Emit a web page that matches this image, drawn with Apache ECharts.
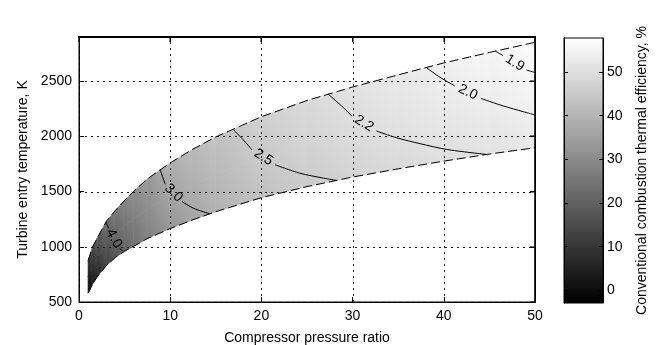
<!DOCTYPE html>
<html><head><meta charset="utf-8">
<script src="https://cdn.jsdelivr.net/npm/echarts@6/dist/echarts.min.js"></script>
<style>html,body{margin:0;padding:0;background:#fff}#c{width:661px;height:345px}</style>
</head><body><div id="c"></div>
<script>
// ---- data ----
const pressureRatio = [1, 1.5, 2, 3, 4, 5, 6, 7.5, 10, 12.5, 15, 20, 25, 30, 35, 40, 45, 50];
const upperTemp = [875, 1000, 1080, 1230, 1330, 1420, 1503, 1615, 1760, 1885, 1995, 2178, 2325, 2447, 2557, 2665, 2760, 2852];
const lowerTemp = [580, 665, 730, 830, 905, 960, 1005, 1075, 1165, 1245, 1318, 1445, 1545, 1632, 1706, 1776, 1840, 1897];
// efficiency (%) at lower edge, middle and upper edge of the band
const effLower = [-2.5, 3, 7, 13, 17.5, 21, 24, 28, 33, 36.5, 39.5, 43, 45.5, 47.5, 49, 50, 51, 52];
const effMid   = [4, 9, 13, 18, 22, 25, 27.5, 31, 36, 39, 41.5, 45, 47.5, 49.5, 51, 52.5, 53.5, 55];
const effUpper = [11, 15, 19, 23, 26.5, 29, 31, 34, 39, 41.5, 43.5, 46.5, 49, 51, 52.5, 54, 55.5, 57];
const colorbarMin = -2.9, colorbarMax = 57.8;
const colorbarTicks = [0, 10, 20, 30, 40, 50];
const xRange = [0, 50];
const yRange = [500, 2900];
const xTicks = [0, 10, 20, 30, 40, 50];
const yTicks = [500, 1000, 1500, 2000, 2500];

const contourLevels = ['4.0', '3.0', '2.5', '2.2', '2.0', '1.9'];
const contourBeforeLabel = [
  [[2.95, 1225], [3.05, 1205], [3.24, 1167]],
  [[8.9, 1700], [9.1, 1650], [9.45, 1565]],
  [[16.9, 2062], [18.0, 1970], [18.95, 1879]],
  [[27.3, 2385], [28.98, 2261], [29.9, 2185]],
  [[38.1, 2623], [39.6, 2534], [41.2, 2458]],
  [[45.67, 2772], [46.5, 2731]]
];
const contourAfterLabel = [
  [[4.45, 982], [4.8, 966]],
  [[11.3, 1409], [12.55, 1349], [14.3, 1300]],
  [[21.5, 1743], [24.2, 1667], [26.8, 1622], [28.3, 1600]],
  [[32.6, 2049], [34.8, 1988], [37.4, 1934], [40.3, 1882], [44.7, 1836]],
  [[44.1, 2343], [46.5, 2276], [48.7, 2224], [50, 2194]],
  [[49.07, 2600], [50, 2579]]
];

// ---- rendering ----
const FONT = '"Liberation Sans", Arial, Helvetica, sans-serif';
const effRows = [effLower, effMid, effUpper];
const rowFrac = [0, 0.5, 1];
function tempAt(i, r) { return lowerTemp[i] + rowFrac[r] * (upperTemp[i] - lowerTemp[i]); }
function gray(v) {
  let g = (v - colorbarMin) / (colorbarMax - colorbarMin);
  g = Math.max(0, Math.min(1, g));
  const c = Math.round(g * 255);
  return 'rgb(' + c + ',' + c + ',' + c + ')';
}
const cells = [];
for (let i = 0; i < pressureRatio.length - 1; i++) {
  for (let r = 0; r < 2; r++) {
    cells.push([(pressureRatio[i] + pressureRatio[i + 1]) / 2, (tempAt(i, r) + tempAt(i, r + 1)) / 2, i, r]);
  }
}
function renderCell(params, api) {
  const i = api.value(2), r = api.value(3);
  const LL = api.coord([pressureRatio[i], tempAt(i, r)]);
  const LR = api.coord([pressureRatio[i + 1], tempAt(i + 1, r)]);
  const UR = api.coord([pressureRatio[i + 1], tempAt(i + 1, r + 1)]);
  const UL = api.coord([pressureRatio[i], tempAt(i, r + 1)]);
  const vLL = effRows[r][i], vLR = effRows[r][i + 1], vUR = effRows[r + 1][i + 1], vUL = effRows[r + 1][i];
  const w = Math.max(1e-6, ((LR[0] - LL[0]) + (UR[0] - UL[0])) / 2);
  const h = Math.max(1e-6, ((LL[1] - UL[1]) + (LR[1] - UR[1])) / 2);
  const gx = ((vLR - vLL) + (vUR - vUL)) / 2 / w;
  const gy = -((vUL - vLL) + (vUR - vLR)) / 2 / h;
  const mag = Math.hypot(gx, gy) || 1e-6;
  const ux = gx / mag, uy = gy / mag;
  const pts = [LL, LR, UR, UL];
  const cx = (LL[0] + LR[0] + UR[0] + UL[0]) / 4, cy = (LL[1] + LR[1] + UR[1] + UL[1]) / 4;
  const vc = (vLL + vLR + vUR + vUL) / 4;
  let tmin = Infinity, tmax = -Infinity;
  pts.forEach(p => { const t = (p[0] - cx) * ux + (p[1] - cy) * uy; tmin = Math.min(tmin, t); tmax = Math.max(tmax, t); });
  const mk = () => ({
    type: 'linear', global: true,
    x: cx + ux * tmin, y: cy + uy * tmin, x2: cx + ux * tmax, y2: cy + uy * tmax,
    colorStops: [{ offset: 0, color: gray(vc + mag * tmin) }, { offset: 1, color: gray(vc + mag * tmax) }]
  });
  return { type: 'polygon', shape: { points: pts }, style: { fill: mk(), stroke: mk(), lineWidth: 0.7 } };
}
function renderContour(params, api) {
  const k = api.value(2);
  const a = contourBeforeLabel[k].map(p => api.coord(p));
  const b = contourAfterLabel[k].map(p => api.coord(p));
  const e = a[a.length - 1], s = b[0];
  const ang = Math.atan2(s[1] - e[1], s[0] - e[0]);
  return {
    type: 'group', children: [
      { type: 'polyline', shape: { points: a, smooth: 0.3 }, style: { stroke: '#000', lineWidth: 1, fill: null } },
      { type: 'polyline', shape: { points: b, smooth: 0.3 }, style: { stroke: '#000', lineWidth: 1, fill: null } },
      { type: 'text', x: (e[0] + s[0]) / 2, y: (e[1] + s[1]) / 2, rotation: -ang,
        style: { text: contourLevels[k], fill: '#000', fontSize: 14, fontFamily: FONT, align: 'center', verticalAlign: 'middle' } }
    ]
  };
}
function renderFrame(params, api) {
  const p0 = api.coord([xRange[0], yRange[0]]), p1 = api.coord([xRange[1], yRange[1]]);
  const L = Math.round(p0[0]), R = Math.round(p1[0]), T = Math.round(p1[1]), B = Math.round(p0[1]);
  const bar = (x, y, w, h) => ({ type: 'rect', shape: { x: x, y: y, width: w, height: h }, style: { fill: '#000' } });
  const ch = [bar(L - 1, T - 1, R - L + 2, 1.2), bar(R - 0.6, T - 1, 1.2, B - T + 2)];
  xTicks.forEach(v => { const px = Math.round(api.coord([v, yRange[1]])[0]); ch.push(bar(px - 0.5, T, 1, 5)); });
  yTicks.forEach(v => { const py = Math.round(api.coord([xRange[1], v])[1]); ch.push(bar(R - 5, py - 0.5, 5, 1)); });
  return { type: 'group', children: ch };
}
function renderGridlines(params, api) {
  const ch = [];
  xTicks.forEach(v => { const a = api.coord([v, yRange[0]]), b = api.coord([v, yRange[1]]); const x = Math.round(a[0]) + 0.5; ch.push({ type: 'line', shape: { x1: x, y1: a[1], x2: x, y2: b[1] }, style: { stroke: '#222', lineWidth: 1, lineDash: [2, 4] } }); });
  yTicks.forEach(v => { const a = api.coord([xRange[0], v]), b = api.coord([xRange[1], v]); const y = Math.round(a[1]) + 0.5; ch.push({ type: 'line', shape: { x1: a[0], y1: y, x2: b[0], y2: y }, style: { stroke: '#222', lineWidth: 1, lineDash: [2, 4] } }); });
  return { type: 'group', children: ch };
}
function renderColorbar(params, api) {
  const p0 = api.coord([0, colorbarMin]), p1 = api.coord([1, colorbarMax]);
  return {
    type: 'rect', shape: { x: p0[0], y: p1[1], width: p1[0] - p0[0], height: p0[1] - p1[1] },
    style: { fill: { type: 'linear', x: 0, y: 1, x2: 0, y2: 0, colorStops: [{ offset: 0, color: gray(colorbarMin) }, { offset: 1, color: gray(colorbarMax) }] } }
  };
}

const labelS = () => ({ color: '#000', fontSize: 14, fontFamily: FONT, formatter: v => String(v) });
const lineS = () => ({ show: true, onZero: false, lineStyle: { color: '#000', width: 1 } });

const chart = echarts.init(document.getElementById('c'));
chart.setOption({
  animation: false,
  grid: [
    { left: 79, top: 37, width: 456, height: 265, outerBoundsMode: 'none', containLabel: false,
      show: true, backgroundColor: 'transparent', borderColor: '#000', borderWidth: 1, z: 10 },
    { left: 564, top: 38, width: 39, height: 265, outerBoundsMode: 'none', containLabel: false,
      show: true, backgroundColor: 'transparent', borderColor: '#000', borderWidth: 1, z: 6 }
  ],
  xAxis: [
    { gridIndex: 0, type: 'value', min: xRange[0], max: xRange[1], interval: 10,
      axisLine: lineS(), axisTick: { show: true, inside: true, length: 5, lineStyle: { color: '#000' } },
      axisLabel: Object.assign({ margin: 7 }, labelS()), splitLine: { show: false },
      name: 'Compressor pressure ratio', nameLocation: 'middle', nameGap: 29,
      nameTextStyle: { color: '#000', fontSize: 14, fontFamily: FONT } },
    { gridIndex: 1, type: 'value', min: 0, max: 1, show: false },
    { gridIndex: 0, type: 'value', min: xRange[0], max: xRange[1], interval: 10, position: 'top', z: 8,
      axisLine: lineS(), axisTick: { show: true, inside: true, length: 5, lineStyle: { color: '#000' } },
      axisLabel: { show: false }, splitLine: { show: false } }
  ],
  yAxis: [
    { gridIndex: 0, type: 'value', min: yRange[0], max: yRange[1], interval: 500,
      axisLine: lineS(), axisTick: { show: true, inside: true, length: 5, lineStyle: { color: '#000' } },
      axisLabel: Object.assign({ margin: 7, showMaxLabel: false }, labelS()), splitLine: { show: false },
      name: 'Turbine entry temperature, K', nameLocation: 'middle', nameGap: 48, nameRotate: 90,
      nameTextStyle: { color: '#000', fontSize: 14, fontFamily: FONT } },
    { gridIndex: 1, type: 'value', min: colorbarMin, max: colorbarMax, position: 'right', z: 7,
      axisLine: lineS(), axisTick: { show: true, inside: true, length: 4, customValues: colorbarTicks, lineStyle: { color: '#000' } },
      axisLabel: Object.assign({ margin: 4, customValues: colorbarTicks }, labelS()), splitLine: { show: false },
      name: 'Conventional combustion thermal efficiency, %', nameLocation: 'middle', nameGap: 32, nameRotate: 90,
      nameTextStyle: { color: '#000', fontSize: 14, fontFamily: FONT } },
    { gridIndex: 1, type: 'value', min: colorbarMin, max: colorbarMax, position: 'left', z: 7,
      axisLine: lineS(), axisTick: { show: true, inside: true, length: 4, customValues: colorbarTicks, lineStyle: { color: '#000' } },
      axisLabel: { show: false }, splitLine: { show: false } },
    { gridIndex: 0, type: 'value', min: yRange[0], max: yRange[1], interval: 500, position: 'right', z: 8,
      axisLine: lineS(), axisTick: { show: true, inside: true, length: 5, lineStyle: { color: '#000' } },
      axisLabel: { show: false }, splitLine: { show: false } }
  ],
  series: [
    { type: 'custom', name: 'efficiency', xAxisIndex: 0, yAxisIndex: 0, z: 1, silent: true,
      data: cells, encode: { x: 0, y: 1 }, renderItem: renderCell },
    { type: 'custom', name: 'gridlines', xAxisIndex: 0, yAxisIndex: 0, z: 3, silent: true, clip: false,
      data: [[25, 1700]], encode: { x: 0, y: 1 }, renderItem: renderGridlines },
    { type: 'line', name: 'upper', xAxisIndex: 0, yAxisIndex: 0, z: 4, silent: true, symbol: 'none', clip: false,
      data: pressureRatio.map((x, i) => [x, upperTemp[i]]), lineStyle: { color: '#000', width: 1, type: [9, 4] } },
    { type: 'line', name: 'lower', xAxisIndex: 0, yAxisIndex: 0, z: 4, silent: true, symbol: 'none', clip: false,
      data: pressureRatio.map((x, i) => [x, lowerTemp[i]]), lineStyle: { color: '#000', width: 1, type: [9, 4] } },
    { type: 'custom', name: 'contours', xAxisIndex: 0, yAxisIndex: 0, z: 5, silent: true,
      data: contourLevels.map((l, k) => [contourBeforeLabel[k][0][0], contourBeforeLabel[k][0][1], k]),
      encode: { x: 0, y: 1 }, renderItem: renderContour },
    { type: 'custom', name: 'frame', xAxisIndex: 0, yAxisIndex: 0, z: 9, silent: true, clip: false,
      data: [[25, 1700]], encode: { x: 0, y: 1 }, renderItem: renderFrame },
    { type: 'custom', name: 'colorbar', xAxisIndex: 1, yAxisIndex: 1, z: 1, silent: true,
      data: [[0.5, (colorbarMin + colorbarMax) / 2]], encode: { x: 0, y: 1 }, renderItem: renderColorbar }
  ]
});
</script>
</body></html>
